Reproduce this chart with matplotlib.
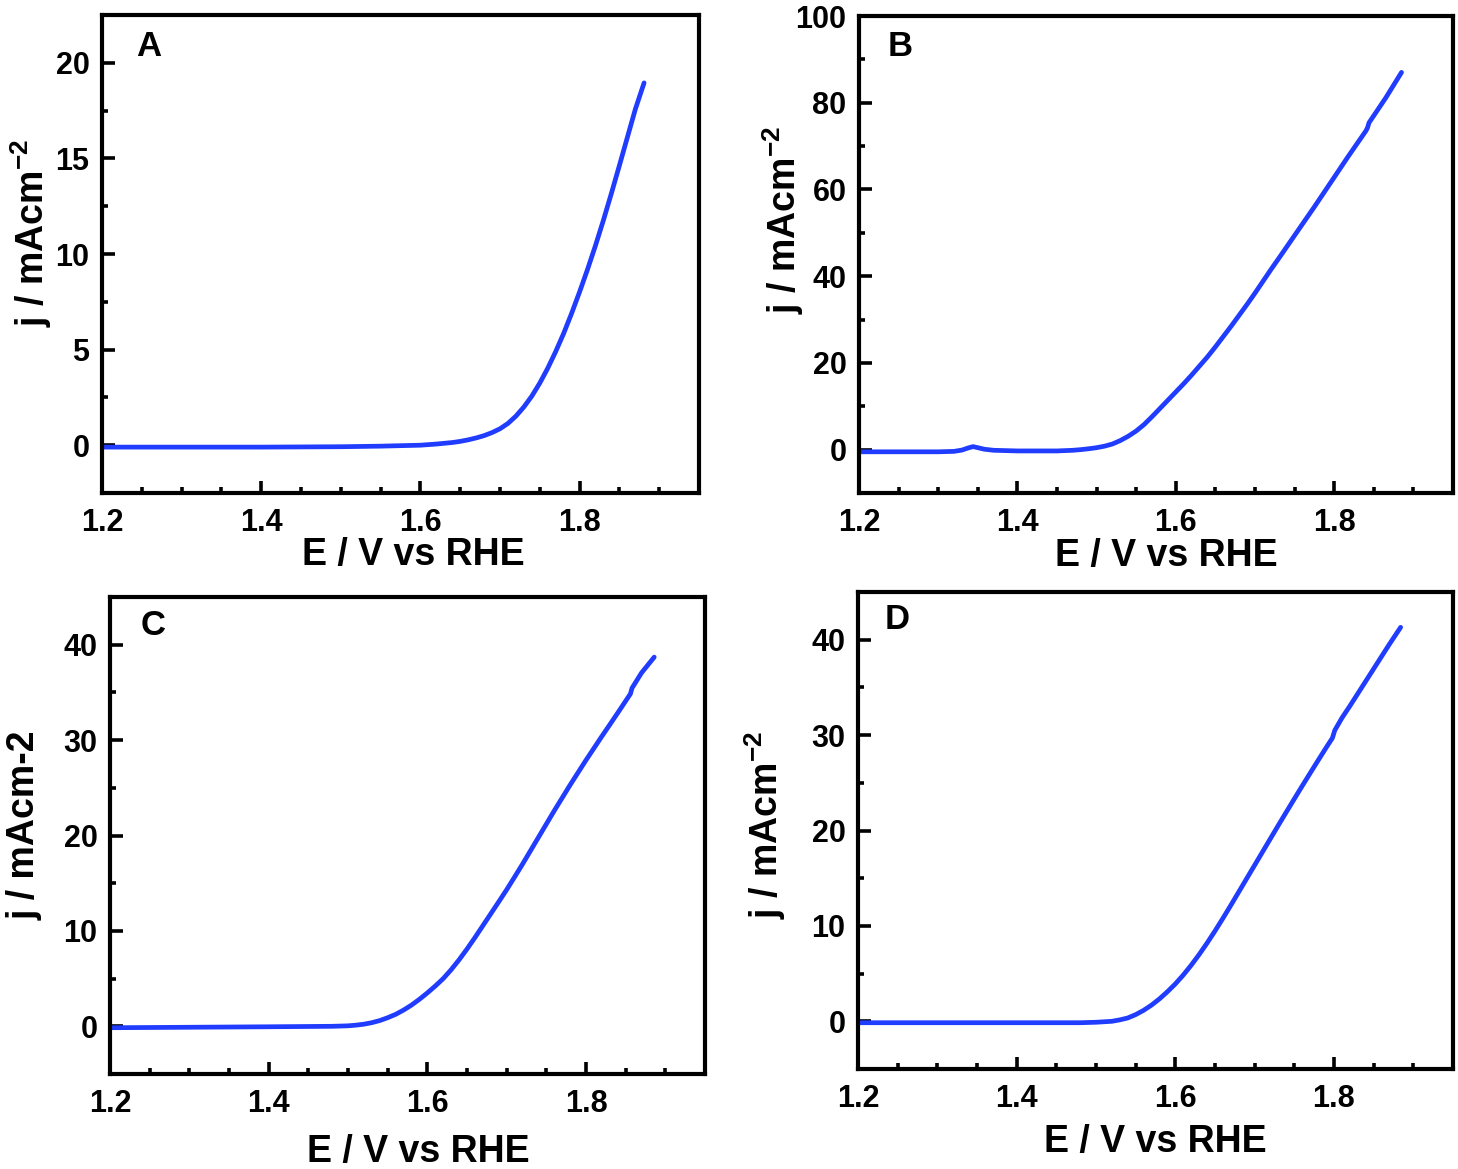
import matplotlib
matplotlib.use("Agg")
import matplotlib.pyplot as plt
from matplotlib.ticker import MultipleLocator

plt.rcParams['font.family'] = ['Liberation Sans', 'DejaVu Sans']
plt.rcParams['font.weight'] = 'bold'
plt.rcParams['mathtext.fontset'] = 'custom'
plt.rcParams['mathtext.rm'] = 'Liberation Sans:bold'
plt.rcParams['mathtext.bf'] = 'Liberation Sans:bold'
plt.rcParams['mathtext.it'] = 'Liberation Sans:bold'
plt.rcParams['mathtext.default'] = 'rm'

# ---------------- data ----------------
E_A = [1.20, 1.30, 1.40, 1.50, 1.55, 1.60, 1.62, 1.64, 1.65, 1.66, 1.67, 1.68,
       1.69, 1.70, 1.71, 1.72, 1.73, 1.74, 1.75, 1.76, 1.77, 1.78, 1.79, 1.80,
       1.81, 1.82, 1.83, 1.84, 1.85, 1.86, 1.87, 1.881]
j_A = [-0.10, -0.10, -0.10, -0.08, -0.05, 0.00, 0.06, 0.14, 0.20, 0.28, 0.38, 0.50,
       0.66, 0.86, 1.14, 1.52, 2.00, 2.57, 3.25, 4.03, 4.90, 5.85, 6.90, 8.02,
       9.20, 10.45, 11.78, 13.18, 14.63, 16.10, 17.57, 18.95]

E_B = [1.20, 1.25, 1.30, 1.32, 1.33, 1.338, 1.344, 1.350, 1.358, 1.37, 1.40, 1.45,
       1.47, 1.48, 1.49, 1.50, 1.51, 1.52, 1.53, 1.54, 1.55, 1.56, 1.57, 1.58,
       1.59, 1.60, 1.61, 1.62, 1.63, 1.64, 1.65, 1.66, 1.67, 1.68, 1.69, 1.70,
       1.71, 1.72, 1.733, 1.75, 1.775, 1.80, 1.818, 1.84, 1.842, 1.844, 1.865, 1.885]
j_B = [-0.5, -0.5, -0.5, -0.4, -0.1, 0.4, 0.7, 0.45, 0.1, -0.15, -0.3, -0.3,
       -0.15, 0.0, 0.2, 0.45, 0.8, 1.3, 2.1, 3.1, 4.3, 5.8, 7.6, 9.5,
       11.4, 13.3, 15.2, 17.2, 19.3, 21.4, 23.7, 26.1, 28.5, 31.0, 33.5, 36.1,
       38.8, 41.5, 44.9, 49.4, 56.0, 62.8, 67.7, 73.5, 74.2, 75.4, 81.1, 87.0]

E_C = [1.20, 1.30, 1.40, 1.48, 1.50, 1.51, 1.52, 1.53, 1.54, 1.55, 1.56, 1.57,
       1.58, 1.59, 1.60, 1.61, 1.62, 1.63, 1.64, 1.65, 1.66, 1.67, 1.68, 1.69,
       1.70, 1.71, 1.72, 1.73, 1.74, 1.75, 1.76, 1.77, 1.78, 1.79, 1.80, 1.81,
       1.82, 1.83, 1.84, 1.85, 1.856, 1.858, 1.87, 1.886]
j_C = [-0.15, -0.10, -0.05, 0.00, 0.05, 0.12, 0.22, 0.38, 0.60, 0.90, 1.25, 1.70,
       2.22, 2.83, 3.50, 4.22, 5.00, 5.93, 6.97, 8.10, 9.30, 10.55, 11.80, 13.05,
       14.32, 15.65, 17.00, 18.40, 19.80, 21.20, 22.60, 23.95, 25.30, 26.60, 27.90, 29.15,
       30.40, 31.62, 32.85, 34.10, 34.85, 35.45, 37.05, 38.70]

E_D = [1.20, 1.40, 1.48, 1.50, 1.51, 1.52, 1.53, 1.54, 1.55, 1.56, 1.57, 1.58,
       1.59, 1.60, 1.61, 1.62, 1.63, 1.64, 1.65, 1.66, 1.67, 1.68, 1.69, 1.70,
       1.71, 1.72, 1.73, 1.74, 1.75, 1.76, 1.77, 1.78, 1.79, 1.798, 1.801, 1.81,
       1.82, 1.83, 1.84, 1.85, 1.86, 1.87, 1.884]
j_D = [-0.15, -0.15, -0.15, -0.10, -0.05, 0.00, 0.15, 0.35, 0.70, 1.15, 1.70, 2.35,
       3.10, 3.92, 4.85, 5.88, 7.00, 8.20, 9.47, 10.80, 12.17, 13.57, 14.97, 16.37,
       17.77, 19.17, 20.57, 21.95, 23.32, 24.68, 26.02, 27.35, 28.67, 29.70, 30.50, 31.80,
       33.05, 34.35, 35.65, 36.95, 38.25, 39.55, 41.30]

panel_letters = ['A', 'B', 'C', 'D']
x_label = 'E / V vs RHE'
y_labels = [r'j / mAcm$^{-2}$', r'j / mAcm$^{-2}$', 'j / mAcm-2', r'j / mAcm$^{-2}$']
x_ticks = [1.2, 1.4, 1.6, 1.8]
x_tick_labels = ['1.2', '1.4', '1.6', '1.8']

# ---------------- layout ----------------
W, H = 1458, 1169
fig = plt.figure(figsize=(W / 100, H / 100), dpi=100)

def frac(left, right, top, bottom):
    return [left / W, 1 - bottom / H, (right - left) / W, (bottom - top) / H]

boxes = [frac(102, 699, 15, 493), frac(859, 1453, 16, 493),
         frac(110, 705, 597, 1074), frac(858, 1453, 592, 1069)]
ylims = [(-2.5, 22.5), (-10, 100), (-5, 45), (-5, 45)]
ymajor = [5, 20, 10, 10]
xlab_pos = [(0.521, -0.130), (0.518, -0.132), (0.519, -0.164), (0.499, -0.153)]
ylab_pos = [(-0.118, 0.544), (-0.127, 0.572), (-0.143, 0.522), (-0.156, 0.512)]
letter_pos = [(0.079, 0.935), (0.069, 0.937), (0.072, 0.941), (0.066, 0.943)]

data = [(E_A, j_A), (E_B, j_B), (E_C, j_C), (E_D, j_D)]
blue = '#1f3cff'

for i in range(4):
    ax = fig.add_axes(boxes[i])
    E, j = data[i]
    ax.plot(E, j, color=blue, lw=3.4, solid_capstyle='round', solid_joinstyle='round')
    ax.set_xlim(1.2, 1.95)
    ax.set_ylim(*ylims[i])
    ax.set_xticks(x_ticks)
    ax.set_xticklabels(x_tick_labels)
    ax.xaxis.set_minor_locator(MultipleLocator(0.05))
    ax.yaxis.set_major_locator(MultipleLocator(ymajor[i]))
    ax.yaxis.set_minor_locator(MultipleLocator(ymajor[i] / 2))
    ax.tick_params(which='both', direction='in', top=False, right=False, width=2.6)
    ax.tick_params(which='major', length=9, labelsize=22)
    ax.tick_params(axis='x', which='major', pad=11)
    ax.tick_params(axis='y', which='major', pad=9)
    ax.tick_params(which='minor', length=4.5)
    for lab in ax.get_xticklabels() + ax.get_yticklabels():
        lab.set_fontweight('bold')
    for s in ax.spines.values():
        s.set_linewidth(3)
    ax.set_xlabel(x_label, fontsize=27, fontweight='bold', va='center')
    ax.xaxis.set_label_coords(*xlab_pos[i])
    ax.set_ylabel(y_labels[i], fontsize=27, fontweight='bold', va='center')
    ax.yaxis.set_label_coords(*ylab_pos[i])
    ax.text(letter_pos[i][0], letter_pos[i][1], panel_letters[i], transform=ax.transAxes,
            fontsize=25, fontweight='bold', ha='center', va='center')

fig.savefig('out.png', dpi=100)
